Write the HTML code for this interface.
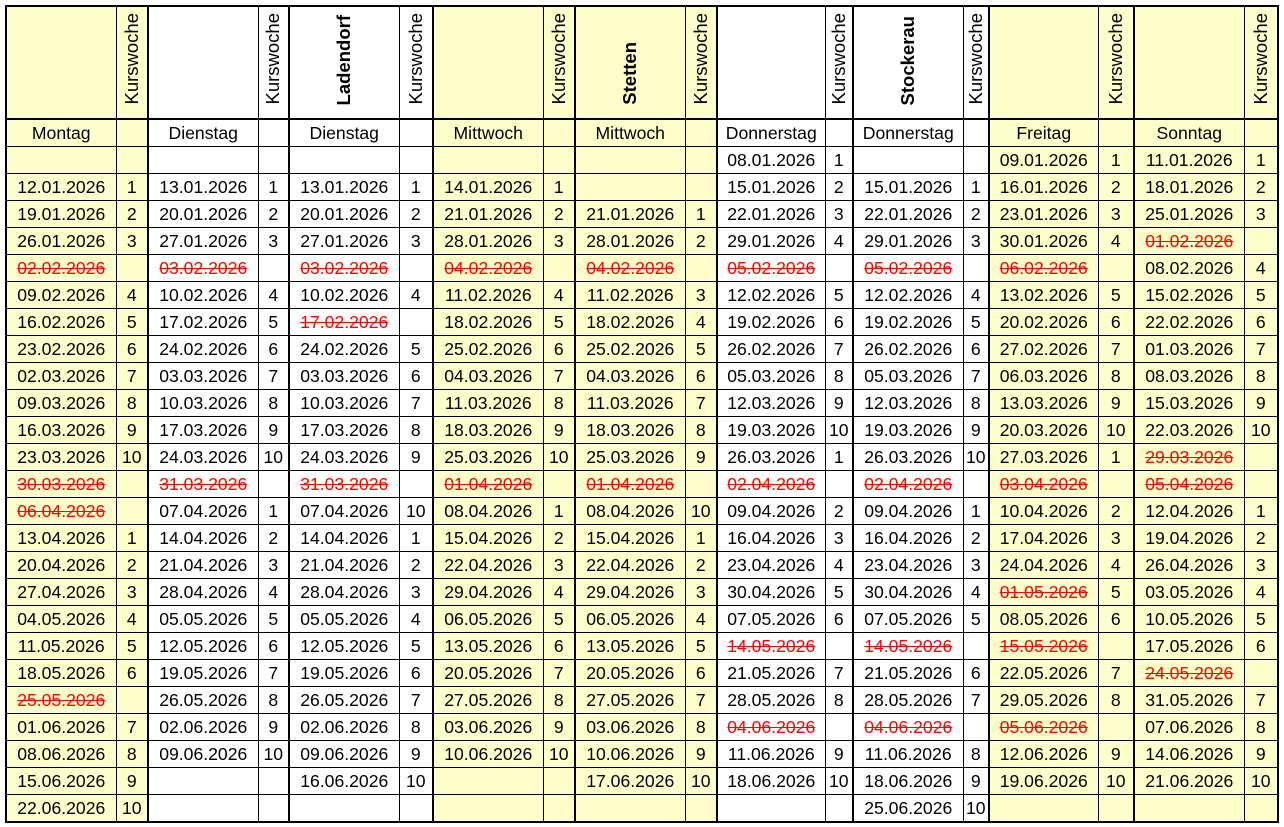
<!DOCTYPE html>
<html><head><meta charset="utf-8"><style>
html,body{margin:0;padding:0;background:#fff;}
body{width:1284px;height:827px;overflow:hidden;position:relative;}
table{position:absolute;left:5px;top:5px;border-collapse:collapse;table-layout:fixed;font-family:"Liberation Sans",sans-serif;font-size:17.6px;color:#000;border:2px solid #000;}
td{border:1px solid #000;height:26px;padding:0;text-align:center;vertical-align:middle;white-space:nowrap;overflow:hidden;line-height:26px;}
td:nth-child(2n){border-right:2px solid #000;}
td:nth-child(1),td:nth-child(2),td:nth-child(7),td:nth-child(8),td:nth-child(9),td:nth-child(10),td:nth-child(15),td:nth-child(16),td:nth-child(17),td:nth-child(18){background:#FFFFCC;}
tr.h td{height:111px;vertical-align:bottom;border-bottom:2px solid #000;}
tr.h span{writing-mode:vertical-rl;transform:rotate(180deg);display:inline-block;line-height:20px;padding-top:6px;font-size:18.5px;}
s{color:#f00;text-decoration-color:#f00;}
</style></head><body>
<table>
<colgroup><col style="width:110px"><col style="width:32px"><col style="width:110px"><col style="width:31px"><col style="width:110px"><col style="width:34px"><col style="width:110px"><col style="width:32px"><col style="width:110px"><col style="width:32px"><col style="width:108px"><col style="width:28px"><col style="width:110px"><col style="width:26px"><col style="width:109px"><col style="width:36px"><col style="width:110px"><col style="width:34px"></colgroup>
<tr class="h"><td></td><td><span>Kurswoche</span></td><td></td><td><span>Kurswoche</span></td><td><span style="font-weight:bold">Ladendorf</span></td><td><span>Kurswoche</span></td><td></td><td><span>Kurswoche</span></td><td><span style="font-weight:bold">Stetten</span></td><td><span>Kurswoche</span></td><td></td><td><span>Kurswoche</span></td><td><span style="font-weight:bold">Stockerau</span></td><td><span>Kurswoche</span></td><td></td><td><span>Kurswoche</span></td><td></td><td><span>Kurswoche</span></td></tr>
<tr><td>Montag</td><td></td><td>Dienstag</td><td></td><td>Dienstag</td><td></td><td>Mittwoch</td><td></td><td>Mittwoch</td><td></td><td>Donnerstag</td><td></td><td>Donnerstag</td><td></td><td>Freitag</td><td></td><td>Sonntag</td><td></td></tr>
<tr><td></td><td></td><td></td><td></td><td></td><td></td><td></td><td></td><td></td><td></td><td>08.01.2026</td><td>1</td><td></td><td></td><td>09.01.2026</td><td>1</td><td>11.01.2026</td><td>1</td></tr>
<tr><td>12.01.2026</td><td>1</td><td>13.01.2026</td><td>1</td><td>13.01.2026</td><td>1</td><td>14.01.2026</td><td>1</td><td></td><td></td><td>15.01.2026</td><td>2</td><td>15.01.2026</td><td>1</td><td>16.01.2026</td><td>2</td><td>18.01.2026</td><td>2</td></tr>
<tr><td>19.01.2026</td><td>2</td><td>20.01.2026</td><td>2</td><td>20.01.2026</td><td>2</td><td>21.01.2026</td><td>2</td><td>21.01.2026</td><td>1</td><td>22.01.2026</td><td>3</td><td>22.01.2026</td><td>2</td><td>23.01.2026</td><td>3</td><td>25.01.2026</td><td>3</td></tr>
<tr><td>26.01.2026</td><td>3</td><td>27.01.2026</td><td>3</td><td>27.01.2026</td><td>3</td><td>28.01.2026</td><td>3</td><td>28.01.2026</td><td>2</td><td>29.01.2026</td><td>4</td><td>29.01.2026</td><td>3</td><td>30.01.2026</td><td>4</td><td><s>01.02.2026</s></td><td></td></tr>
<tr><td><s>02.02.2026</s></td><td></td><td><s>03.02.2026</s></td><td></td><td><s>03.02.2026</s></td><td></td><td><s>04.02.2026</s></td><td></td><td><s>04.02.2026</s></td><td></td><td><s>05.02.2026</s></td><td></td><td><s>05.02.2026</s></td><td></td><td><s>06.02.2026</s></td><td></td><td>08.02.2026</td><td>4</td></tr>
<tr><td>09.02.2026</td><td>4</td><td>10.02.2026</td><td>4</td><td>10.02.2026</td><td>4</td><td>11.02.2026</td><td>4</td><td>11.02.2026</td><td>3</td><td>12.02.2026</td><td>5</td><td>12.02.2026</td><td>4</td><td>13.02.2026</td><td>5</td><td>15.02.2026</td><td>5</td></tr>
<tr><td>16.02.2026</td><td>5</td><td>17.02.2026</td><td>5</td><td><s>17.02.2026</s></td><td></td><td>18.02.2026</td><td>5</td><td>18.02.2026</td><td>4</td><td>19.02.2026</td><td>6</td><td>19.02.2026</td><td>5</td><td>20.02.2026</td><td>6</td><td>22.02.2026</td><td>6</td></tr>
<tr><td>23.02.2026</td><td>6</td><td>24.02.2026</td><td>6</td><td>24.02.2026</td><td>5</td><td>25.02.2026</td><td>6</td><td>25.02.2026</td><td>5</td><td>26.02.2026</td><td>7</td><td>26.02.2026</td><td>6</td><td>27.02.2026</td><td>7</td><td>01.03.2026</td><td>7</td></tr>
<tr><td>02.03.2026</td><td>7</td><td>03.03.2026</td><td>7</td><td>03.03.2026</td><td>6</td><td>04.03.2026</td><td>7</td><td>04.03.2026</td><td>6</td><td>05.03.2026</td><td>8</td><td>05.03.2026</td><td>7</td><td>06.03.2026</td><td>8</td><td>08.03.2026</td><td>8</td></tr>
<tr><td>09.03.2026</td><td>8</td><td>10.03.2026</td><td>8</td><td>10.03.2026</td><td>7</td><td>11.03.2026</td><td>8</td><td>11.03.2026</td><td>7</td><td>12.03.2026</td><td>9</td><td>12.03.2026</td><td>8</td><td>13.03.2026</td><td>9</td><td>15.03.2026</td><td>9</td></tr>
<tr><td>16.03.2026</td><td>9</td><td>17.03.2026</td><td>9</td><td>17.03.2026</td><td>8</td><td>18.03.2026</td><td>9</td><td>18.03.2026</td><td>8</td><td>19.03.2026</td><td>10</td><td>19.03.2026</td><td>9</td><td>20.03.2026</td><td>10</td><td>22.03.2026</td><td>10</td></tr>
<tr><td>23.03.2026</td><td>10</td><td>24.03.2026</td><td>10</td><td>24.03.2026</td><td>9</td><td>25.03.2026</td><td>10</td><td>25.03.2026</td><td>9</td><td>26.03.2026</td><td>1</td><td>26.03.2026</td><td>10</td><td>27.03.2026</td><td>1</td><td><s>29.03.2026</s></td><td></td></tr>
<tr><td><s>30.03.2026</s></td><td></td><td><s>31.03.2026</s></td><td></td><td><s>31.03.2026</s></td><td></td><td><s>01.04.2026</s></td><td></td><td><s>01.04.2026</s></td><td></td><td><s>02.04.2026</s></td><td></td><td><s>02.04.2026</s></td><td></td><td><s>03.04.2026</s></td><td></td><td><s>05.04.2026</s></td><td></td></tr>
<tr><td><s>06.04.2026</s></td><td></td><td>07.04.2026</td><td>1</td><td>07.04.2026</td><td>10</td><td>08.04.2026</td><td>1</td><td>08.04.2026</td><td>10</td><td>09.04.2026</td><td>2</td><td>09.04.2026</td><td>1</td><td>10.04.2026</td><td>2</td><td>12.04.2026</td><td>1</td></tr>
<tr><td>13.04.2026</td><td>1</td><td>14.04.2026</td><td>2</td><td>14.04.2026</td><td>1</td><td>15.04.2026</td><td>2</td><td>15.04.2026</td><td>1</td><td>16.04.2026</td><td>3</td><td>16.04.2026</td><td>2</td><td>17.04.2026</td><td>3</td><td>19.04.2026</td><td>2</td></tr>
<tr><td>20.04.2026</td><td>2</td><td>21.04.2026</td><td>3</td><td>21.04.2026</td><td>2</td><td>22.04.2026</td><td>3</td><td>22.04.2026</td><td>2</td><td>23.04.2026</td><td>4</td><td>23.04.2026</td><td>3</td><td>24.04.2026</td><td>4</td><td>26.04.2026</td><td>3</td></tr>
<tr><td>27.04.2026</td><td>3</td><td>28.04.2026</td><td>4</td><td>28.04.2026</td><td>3</td><td>29.04.2026</td><td>4</td><td>29.04.2026</td><td>3</td><td>30.04.2026</td><td>5</td><td>30.04.2026</td><td>4</td><td><s>01.05.2026</s></td><td>5</td><td>03.05.2026</td><td>4</td></tr>
<tr><td>04.05.2026</td><td>4</td><td>05.05.2026</td><td>5</td><td>05.05.2026</td><td>4</td><td>06.05.2026</td><td>5</td><td>06.05.2026</td><td>4</td><td>07.05.2026</td><td>6</td><td>07.05.2026</td><td>5</td><td>08.05.2026</td><td>6</td><td>10.05.2026</td><td>5</td></tr>
<tr><td>11.05.2026</td><td>5</td><td>12.05.2026</td><td>6</td><td>12.05.2026</td><td>5</td><td>13.05.2026</td><td>6</td><td>13.05.2026</td><td>5</td><td><s>14.05.2026</s></td><td></td><td><s>14.05.2026</s></td><td></td><td><s>15.05.2026</s></td><td></td><td>17.05.2026</td><td>6</td></tr>
<tr><td>18.05.2026</td><td>6</td><td>19.05.2026</td><td>7</td><td>19.05.2026</td><td>6</td><td>20.05.2026</td><td>7</td><td>20.05.2026</td><td>6</td><td>21.05.2026</td><td>7</td><td>21.05.2026</td><td>6</td><td>22.05.2026</td><td>7</td><td><s>24.05.2026</s></td><td></td></tr>
<tr><td><s>25.05.2026</s></td><td></td><td>26.05.2026</td><td>8</td><td>26.05.2026</td><td>7</td><td>27.05.2026</td><td>8</td><td>27.05.2026</td><td>7</td><td>28.05.2026</td><td>8</td><td>28.05.2026</td><td>7</td><td>29.05.2026</td><td>8</td><td>31.05.2026</td><td>7</td></tr>
<tr><td>01.06.2026</td><td>7</td><td>02.06.2026</td><td>9</td><td>02.06.2026</td><td>8</td><td>03.06.2026</td><td>9</td><td>03.06.2026</td><td>8</td><td><s>04.06.2026</s></td><td></td><td><s>04.06.2026</s></td><td></td><td><s>05.06.2026</s></td><td></td><td>07.06.2026</td><td>8</td></tr>
<tr><td>08.06.2026</td><td>8</td><td>09.06.2026</td><td>10</td><td>09.06.2026</td><td>9</td><td>10.06.2026</td><td>10</td><td>10.06.2026</td><td>9</td><td>11.06.2026</td><td>9</td><td>11.06.2026</td><td>8</td><td>12.06.2026</td><td>9</td><td>14.06.2026</td><td>9</td></tr>
<tr><td>15.06.2026</td><td>9</td><td></td><td></td><td>16.06.2026</td><td>10</td><td></td><td></td><td>17.06.2026</td><td>10</td><td>18.06.2026</td><td>10</td><td>18.06.2026</td><td>9</td><td>19.06.2026</td><td>10</td><td>21.06.2026</td><td>10</td></tr>
<tr><td>22.06.2026</td><td>10</td><td></td><td></td><td></td><td></td><td></td><td></td><td></td><td></td><td></td><td></td><td>25.06.2026</td><td>10</td><td></td><td></td><td></td><td></td></tr>
</table>
</body></html>
